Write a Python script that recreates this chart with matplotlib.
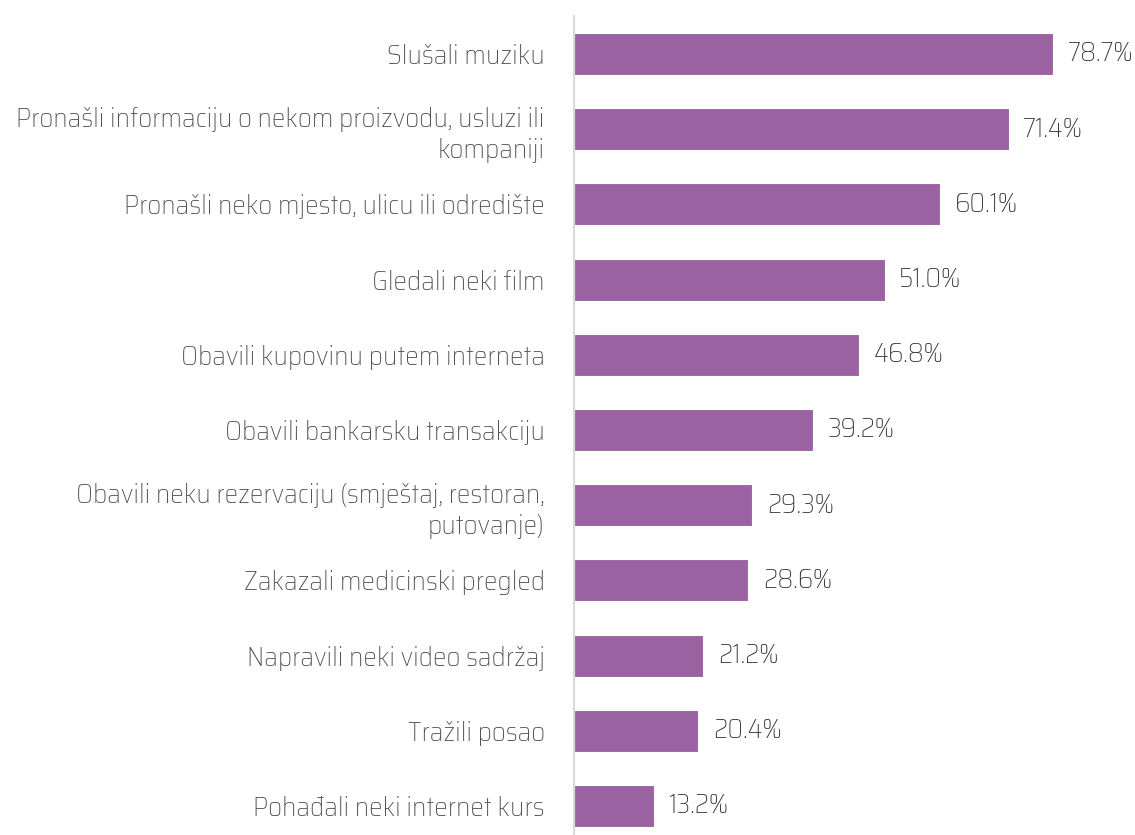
import matplotlib.pyplot as plt

# Share of respondents per online activity (%)
categories = [
    'Slušali muziku',
    'Pronašli informaciju o nekom proizvodu, usluzi ili\nkompaniji',
    'Pronašli neko mjesto, ulicu ili odredište',
    'Gledali neki film',
    'Obavili kupovinu putem interneta',
    'Obavili bankarsku transakciju',
    'Obavili neku rezervaciju (smještaj, restoran,\nputovanje)',
    'Zakazali medicinski pregled',
    'Napravili neki video sadržaj',
    'Tražili posao',
    'Pohađali neki internet kurs',
]
values = [78.7, 71.4, 60.1, 51.0, 46.8, 39.2, 29.3, 28.6, 21.2, 20.4, 13.2]

BAR_COLOR = '#9b62a1'
TEXT_COLOR = '#595959'

plt.rcParams['font.family'] = ['Saira SemiCondensed', 'DejaVu Sans']
plt.rcParams['font.weight'] = 'light'

fig = plt.figure(figsize=(11.35, 8.35), dpi=100)
ax = fig.add_axes([574 / 1135, -0.0103, (1122 - 574) / 1135, 0.9907])

y = list(range(len(categories)))
ax.barh(y, values, height=0.56, color=BAR_COLOR, edgecolor='white', linewidth=0.8)
ax.set_ylim(len(categories) - 0.5, -0.5)
ax.set_xlim(0, 90)

for yi, v in zip(y, values):
    ax.text(v + 2.4, yi, f'{v:.1f}%', va='center', ha='left',
            fontsize=19.5, color='#333333')

ax.set_yticks(y)
ax.set_yticklabels(categories, fontsize=19.5, color='#4d4d4d', linespacing=1.3)
ax.tick_params(axis='y', length=0, pad=21)
ax.set_xticks([])

for side in ['top', 'right', 'bottom']:
    ax.spines[side].set_visible(False)
ax.spines['left'].set_color('#d9d9d9')
ax.spines['left'].set_linewidth(1.5)

fig.savefig('out.png', dpi=100, facecolor='white')
